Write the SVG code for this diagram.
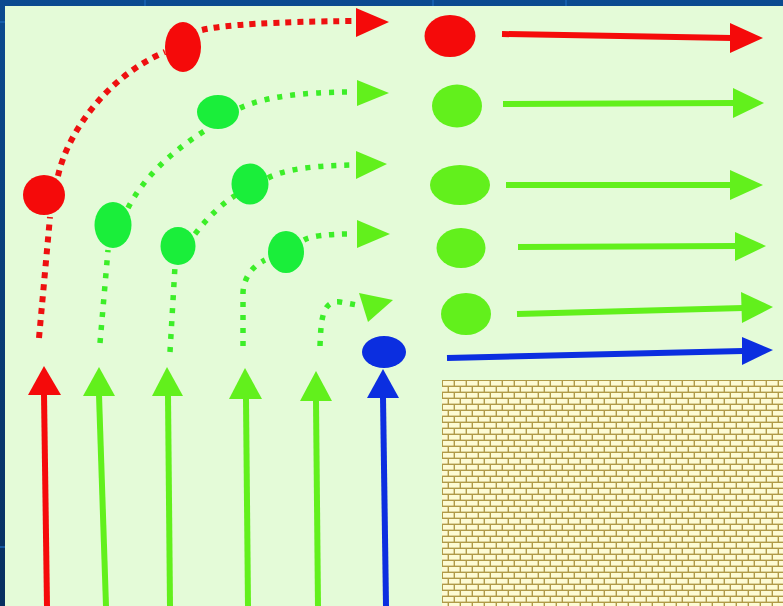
<svg xmlns="http://www.w3.org/2000/svg" width="783" height="606" viewBox="0 0 783 606">
<defs>
<linearGradient id="bg" x1="0" y1="0" x2="0" y2="1">
<stop offset="0" stop-color="#0b4a90"/>
<stop offset="1" stop-color="#072f60"/>
</linearGradient>
<pattern id="brick" x="442" y="380" width="12" height="12" patternUnits="userSpaceOnUse">
<rect width="12" height="12" fill="#b09a48"/>
<rect x="1" y="1" width="10.6" height="4.6" fill="#fdfbd4"/>
<rect x="-5" y="7" width="10.6" height="4.6" fill="#fdfbd4"/>
<rect x="7" y="7" width="10.6" height="4.6" fill="#fdfbd4"/>
</pattern>
<style>
.red{fill:#f50a0a}
.grn{fill:#62f01c}
.gel{fill:#1aee3a}
.blu{fill:#0b2ee0}
.dr{fill:none;stroke:#ee1010;stroke-width:6;stroke-dasharray:6 6}
.dg{fill:none;stroke:#3cee28;stroke-width:5.5;stroke-dasharray:5 8}
.sr{stroke:#f50a0a;stroke-width:6;fill:none}
.sg{stroke:#62f01c;stroke-width:6;fill:none}
.sb{stroke:#0b2ee0;stroke-width:6;fill:none}
</style>
</defs>
<rect width="783" height="606" fill="url(#bg)"/>
<g stroke="#1a66b8" stroke-width="2" opacity="0.7">
<line x1="145" y1="0" x2="145" y2="6"/>
<line x1="433" y1="0" x2="433" y2="6"/>
<line x1="566" y1="0" x2="566" y2="6"/>
<line x1="0" y1="22" x2="5" y2="22"/>
<line x1="0" y1="547" x2="5" y2="547"/>
</g>
<rect x="5" y="6" width="778" height="600" fill="#e4fbd8"/>
<rect id="brickwall" x="442" y="380" width="341" height="226" fill="url(#brick)"/>

<g id="connectors">
<!-- red dotted path -->
<path class="dr" d="M39 338 L50 217"/>
<path class="dr" d="M58 176 C68 130 110 75 165 52"/>
<path class="dr" d="M202 30 Q235 22 355 21"/>
<polygon class="red" points="356,8 356,37 389,22"/>
<!-- green B -->
<path class="dg" d="M100 343 L108 250"/>
<path class="dg" d="M128 208 Q150 165 206 130"/>
<path class="dg" d="M240 108 Q275 92 352 92"/>
<polygon class="grn" points="357,80 357,106 389,93"/>
<!-- green C -->
<path class="dg" d="M170 352 L175 266"/>
<path class="dg" d="M195 234 Q215 208 236 195"/>
<path class="dg" d="M268 178 Q290 166 352 165"/>
<polygon class="grn" points="356,151 356,179 387,164"/>
<!-- green D -->
<path class="dg" d="M243 346 L243 292 Q245 270 265 260"/>
<path class="dg" d="M304 240 Q315 234 352 234"/>
<polygon class="grn" points="357,220 357,248 390,234"/>
<!-- green E -->
<path class="dg" d="M320 346 C321 320 322 300 340 302 L357 305"/>
<polygon class="grn" points="359,293 368,322 393,300"/>
<!-- vertical arrows -->
<line class="sr" x1="44" y1="394" x2="47" y2="606"/>
<polygon class="red" points="28,395 61,395 44,366"/>
<line class="sg" x1="99" y1="395" x2="106" y2="606"/>
<polygon class="grn" points="83,396 115,396 99,367"/>
<line class="sg" x1="168" y1="395" x2="170" y2="606"/>
<polygon class="grn" points="152,396 183,396 167,367"/>
<line class="sg" x1="246" y1="398" x2="248" y2="606"/>
<polygon class="grn" points="229,399 262,399 245,368"/>
<line class="sg" x1="316" y1="400" x2="318" y2="606"/>
<polygon class="grn" points="300,401 332,401 316,371"/>
<line class="sb" x1="383" y1="397" x2="386" y2="606"/>
<polygon class="blu" points="367,398 399,398 383,369"/>
<!-- horizontal arrows -->
<line class="sr" x1="502" y1="34" x2="732" y2="38"/>
<polygon class="red" points="730,23 730,53 763,38"/>
<line class="sg" x1="503" y1="104" x2="735" y2="103"/>
<polygon class="grn" points="733,88 733,118 764,103"/>
<line class="sg" x1="506" y1="185" x2="732" y2="185"/>
<polygon class="grn" points="730,170 730,200 763,185"/>
<line class="sg" x1="518" y1="247" x2="737" y2="246"/>
<polygon class="grn" points="735,232 735,261 766,246"/>
<line class="sg" x1="517" y1="314" x2="743" y2="308"/>
<polygon class="grn" points="741,292 742,323 773,307"/>
<line class="sb" x1="447" y1="358" x2="743" y2="351"/>
<polygon class="blu" points="742,337 742,365 773,350"/>
</g>

<g id="red-dot-1"><ellipse class="red" cx="44" cy="195" rx="21" ry="20"/></g>
<g id="red-dot-2"><ellipse class="red" cx="183" cy="47" rx="18" ry="25"/></g>
<g id="green-b1"><ellipse class="gel" cx="113" cy="225" rx="18.5" ry="23"/></g>
<g id="green-b2"><ellipse class="gel" cx="218" cy="112" rx="21" ry="17"/></g>
<g id="green-c1"><ellipse class="gel" cx="178" cy="246" rx="17.5" ry="19"/></g>
<g id="green-c2"><ellipse class="gel" cx="250" cy="184" rx="18.5" ry="20.5"/></g>
<g id="green-d1"><ellipse class="gel" cx="286" cy="252" rx="18" ry="21"/></g>
<g id="blue-dot"><ellipse class="blu" cx="384" cy="352" rx="22" ry="16"/></g>
<g id="red-right"><ellipse class="red" cx="450" cy="36" rx="25.5" ry="21"/></g>
<g id="green-right-1"><ellipse class="grn" cx="457" cy="106" rx="25" ry="21.5"/></g>
<g id="green-right-2"><ellipse class="grn" cx="460" cy="185" rx="30" ry="20"/></g>
<g id="green-right-3"><ellipse class="grn" cx="461" cy="248" rx="24.5" ry="20"/></g>
<g id="green-right-4"><ellipse class="grn" cx="466" cy="314" rx="25" ry="21"/></g>
</svg>
